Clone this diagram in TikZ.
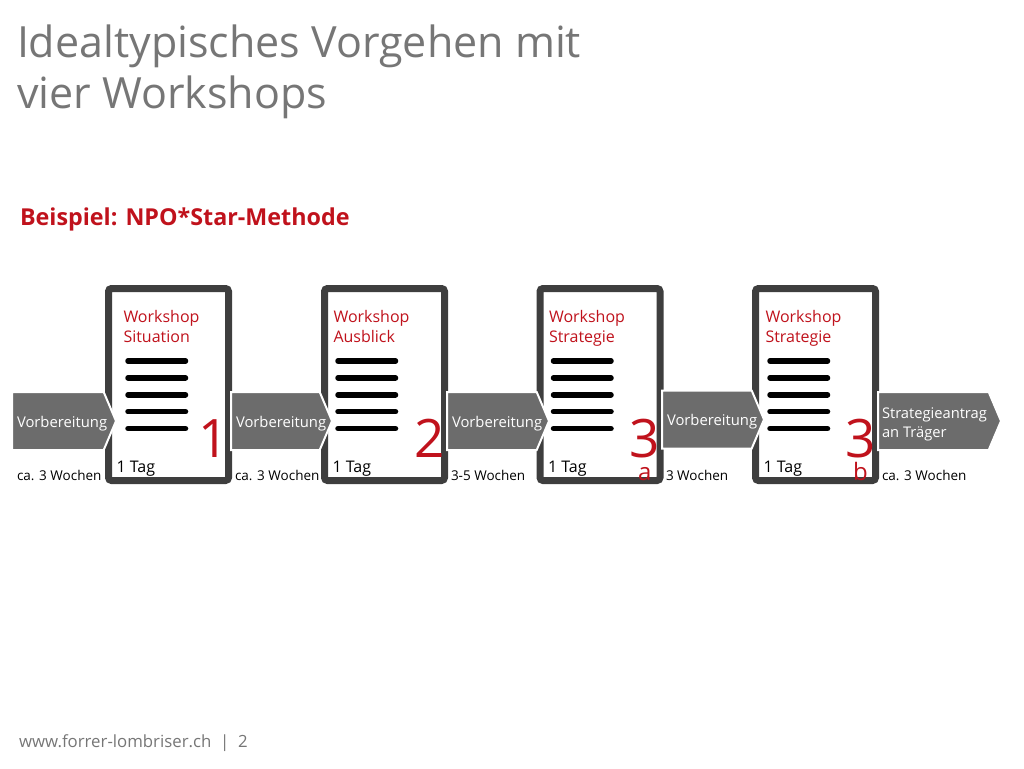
\documentclass[tikz,border=0pt]{standalone}
\usepackage{fontspec}
\setmainfont{Open Sans}
\usetikzlibrary{shapes.symbols}
\definecolor{npored}{RGB}{192,18,28}
\definecolor{titlegray}{RGB}{118,118,118}
\definecolor{boxgray}{RGB}{62,62,62}
\definecolor{phasegray}{RGB}{108,108,108}

\begin{document}
\begin{tikzpicture}[x=1pt,y=-1pt,inner sep=0pt,outer sep=0pt]
    \tikzstyle{ws}=[draw=boxgray, line width=7pt, rounded corners=3pt, fill=white, minimum width=120pt, minimum height=192pt]
    \tikzstyle{phase}=[signal, signal to=east, signal pointer angle=134, fill=phasegray, draw=white, line width=2pt, minimum height=58pt, anchor=west]
    \tikzstyle{txt}=[anchor=base west, align=left]
    \tikzstyle{wstitle}=[txt, text=npored, font=\fontsize{16}{20}\selectfont]
    \tikzstyle{phasetxt}=[txt, text=white, font=\fontsize{14.8}{19}\selectfont]
    \tikzstyle{dur}=[txt, font=\fontsize{13.5}{16}\selectfont]
    \tikzstyle{num}=[text=npored, font=\fontsize{53}{53}\selectfont, anchor=base east]
    \tikzstyle{numsub}=[text=npored, font=\fontsize{24}{24}\selectfont, anchor=base]
    \tikzstyle{bar}=[line width=5.5pt, line cap=round]
    \useasboundingbox (0,0) rectangle (1024,768);

    % titles (base = last line)
    \node[txt, text=titlegray, font=\fontsize{43}{51}\selectfont] (title) at (17,108) {Idealtypisches Vorgehen mit\\vier Workshops};
    \node[txt, text=npored, font=\bfseries\fontsize{23.3}{26}\selectfont] (sub) at (20,225) {Beispiel: NPO*Star-Methode};
    \node[txt, text=titlegray, font=\fontsize{16.8}{20}\selectfont] (foot) at (19,747) {www.forrer-lombriser.ch \ | \ 2};

    % workshops
    \foreach \i/\x/\dx/\name/\num in {1/168.5/15/Situation/1, 2/384.5/9/Ausblick/2, 3/600/9/Strategie/3, 4/815.5/10/Strategie/3}{
        \node[ws] (ws\i) at (\x,384.5) {};
        \node[wstitle] (t\i) at ([xshift=\dx pt]ws\i.west |- 0,342) {Workshop\\\name};
        \foreach \k in {0,...,4}
            \draw[bar] ([xshift=\dx pt+4.5pt]ws\i.west |- 0,361+16.9*\k) -- ([xshift=\dx pt+62pt]ws\i.west |- 0,361+16.9*\k);
        \node[num] (n\i) at ([xshift=0pt]ws\i.east |- 0,457) {\num};
        \node[txt, font=\fontsize{16}{20}\selectfont] (d\i) at ([xshift=8pt]ws\i.west |- 0,472) {1 Tag};
    }
    \node[numsub] (s3) at (n3.base |- 0,480) {a};
    \node[numsub] (s4) at (n4.base |- 0,480) {b};

    % phases between the workshops
    \node[phase, minimum width=104pt] (p1) at (12,421) {};
    \node[phase, minimum width=101pt] (p2) at (231,421) {};
    \node[phase, minimum width=102pt] (p3) at (447,421) {};
    \node[phase, minimum width=102pt] (p4) at (662,419.5) {};
    \node[phase, minimum width=123pt] (p5) at (878,421) {};
    \foreach \p in {1,2,3,4}
        \node[phasetxt] (v\p) at ([xshift=5pt,yshift=-6pt]p\p.west) {Vorbereitung};
    \node[phasetxt, font=\fontsize{14.7}{19}\selectfont] (v5) at ([xshift=4pt,yshift=-16pt]p5.west) {Strategieantrag\\an Träger};

    % durations
    \node[dur] (w1) at ([xshift=5pt]p1.west |- 0,480) {ca. 3 Wochen};
    \node[dur] (w2) at ([xshift=4pt]p2.west |- 0,480) {ca. 3 Wochen};
    \node[dur] (w3) at ([xshift=4pt]p3.west |- 0,480) {3-5 Wochen};
    \node[dur] (w4) at ([xshift=4pt]p4.west |- 0,480) {3 Wochen};
    \node[dur] (w5) at ([xshift=4pt]p5.west |- 0,480) {ca. 3 Wochen};
\end{tikzpicture}
\end{document}
